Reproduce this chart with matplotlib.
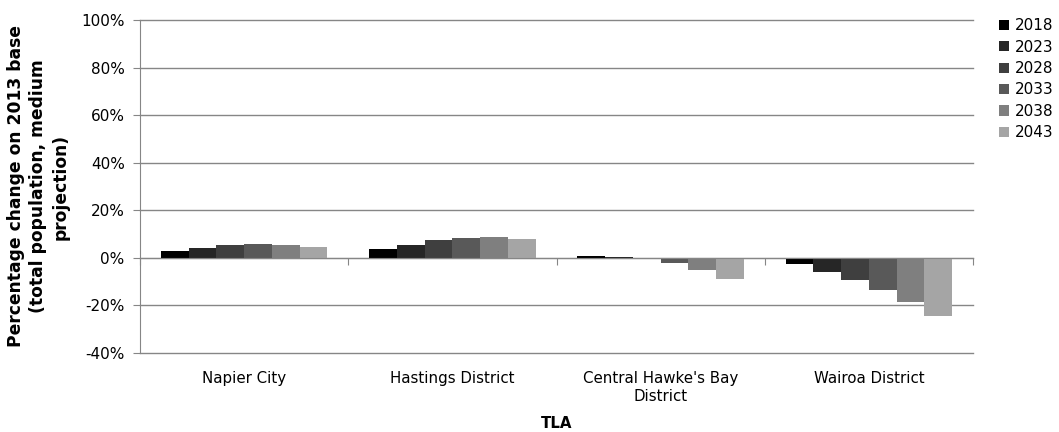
import numpy as np
import matplotlib
matplotlib.use("Agg")
import matplotlib.pyplot as plt
import matplotlib.transforms as mtransforms

# TLA categories and projection years
tlas = ["Napier City", "Hastings District", "Central Hawke's Bay\nDistrict", "Wairoa District"]
years = ["2018", "2023", "2028", "2033", "2038", "2043"]

# percentage change on 2013 base, one list per year (values per TLA)
pct_2018 = [2.9, 3.6, 0.6, -2.7]
pct_2023 = [4.3, 5.6, 0.5, -5.9]
pct_2028 = [5.5, 7.3, -0.2, -9.2]
pct_2033 = [6.0, 8.4, -2.2, -13.4]
pct_2038 = [5.6, 8.6, -5.3, -18.5]
pct_2043 = [4.7, 8.1, -9.1, -24.5]
series = [pct_2018, pct_2023, pct_2028, pct_2033, pct_2038, pct_2043]

colors = ["#000000", "#262626", "#3f3f3f", "#595959", "#7f7f7f", "#a5a5a5"]
grid_col = "#868686"

plt.rcParams['font.family'] = ['DejaVu Sans']

fig = plt.figure(figsize=(10.59, 4.32), dpi=100)
ax = fig.add_axes([0.1322, 0.1829, 0.7866, 0.7708])

x = np.arange(len(tlas))
w = 0.8 / len(years)
for i, (yr, vals) in enumerate(zip(years, series)):
    ax.bar(x - 0.4 + w * (i + 0.5), vals, width=w, color=colors[i], label=yr,
           edgecolor="none", zorder=3)

ax.set_xlim(-0.5, len(tlas) - 0.5)
ax.set_ylim(-40, 100)
ax.set_yticks(np.arange(-40, 101, 20))
ax.set_yticklabels([f"{v}%" for v in range(-40, 101, 20)])
ax.yaxis.grid(True, color=grid_col, linewidth=1.0, zorder=0)
for gl in ax.get_ygridlines():
    gl.set_clip_on(False)

for s in ["top", "right"]:
    ax.spines[s].set_visible(False)
ax.spines["left"].set_color(grid_col)
ax.spines["bottom"].set_position(("data", 0))
ax.spines["bottom"].set_color(grid_col)
ax.spines["bottom"].set_zorder(4)

ax.set_xticks(np.arange(-0.5, len(tlas), 1.0))
ax.set_xticklabels([])
ax.tick_params(axis="x", direction="out", length=5, color=grid_col)
ax.tick_params(axis="y", direction="out", length=5, color=grid_col,
               labelsize=11, pad=6)

# category labels placed below the plot area
trans = mtransforms.blended_transform_factory(ax.transData, ax.transAxes)
for xi, name in zip(x, tlas):
    ax.text(xi, -0.055, name, transform=trans, ha="center", va="top",
            fontsize=10.8, linespacing=1.25)

ax.text(0.5, -0.19, "TLA", transform=ax.transAxes, ha="center", va="top",
        fontsize=10.8, fontweight="bold")

ax.set_ylabel("Percentage change on 2013 base\n(total population, medium\nprojection)",
              fontsize=12.3, fontweight="bold", linespacing=1.3)
ax.yaxis.set_label_coords(-0.085, 0.5)

ax.legend(loc="upper left", bbox_to_anchor=(0.938, 0.972),
          bbox_transform=fig.transFigure, frameon=False, fontsize=11,
          handlelength=0.65, handleheight=0.65, handletextpad=0.35,
          labelspacing=0.42, borderaxespad=0)

fig.savefig("out.png", dpi=100)
